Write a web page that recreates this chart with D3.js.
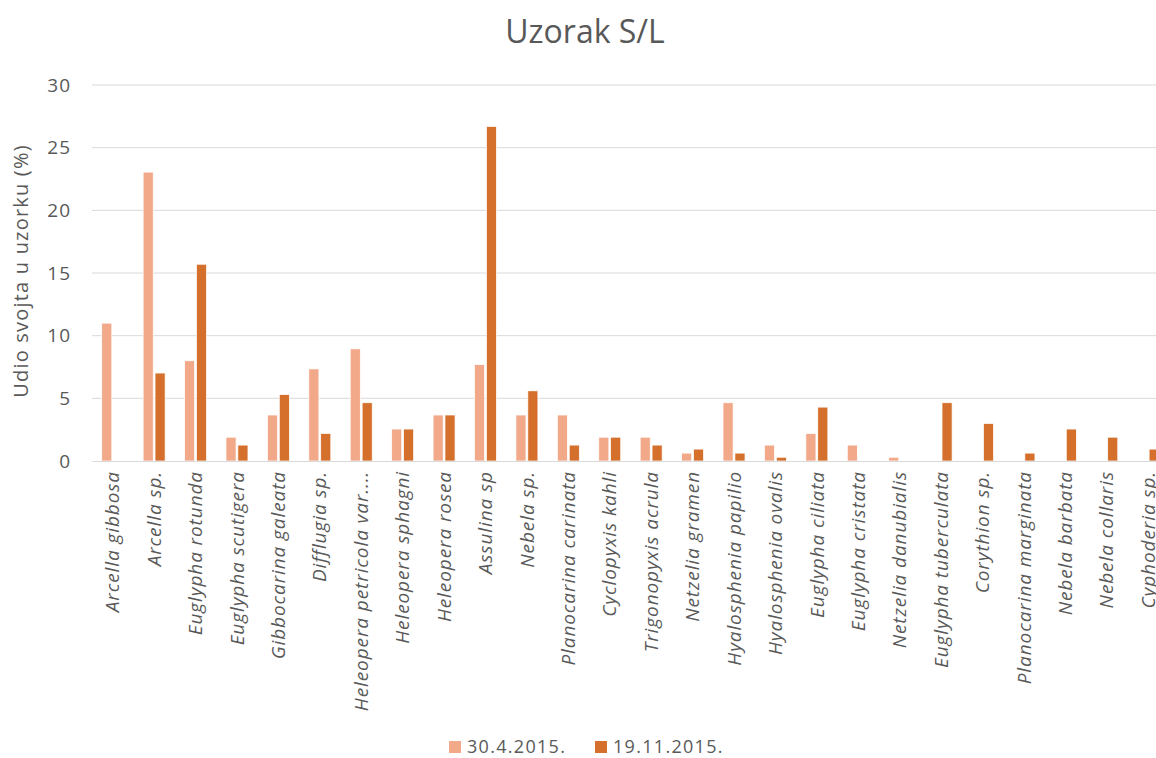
<!DOCTYPE html>
<html>
<head>
<meta charset="utf-8">
<script src="https://cdn.jsdelivr.net/npm/d3@7"></script>
<style>
  body { margin: 0; background: #fff; }
  text { font-family: "Open Sans", sans-serif; fill: #595959; }
</style>
</head>
<body>
<div id="chart"></div>
<script>
let svgWidth = 1156;
let svgHeight = 758;
let margin = { top: 85, right: -13, bottom: 297, left: 92 };
let chartWidth = svgWidth - margin.left - margin.right;
let chartHeight = svgHeight - margin.top - margin.bottom;

// data
let species = ["Arcella gibbosa", "Arcella sp.", "Euglypha rotunda", "Euglypha scutigera",
  "Gibbocarina galeata", "Difflugia sp.", "Heleopera petricola var....", "Heleopera sphagni",
  "Heleopera rosea", "Assulina sp", "Nebela sp.", "Planocarina carinata", "Cyclopyxis kahli",
  "Trigonopyxis acrula", "Netzelia gramen", "Hyalosphenia papilio", "Hyalosphenia ovalis",
  "Euglypha ciliata", "Euglypha cristata", "Netzelia danubialis", "Euglypha tuberculata",
  "Corythion sp.", "Planocarina marginata", "Nebela barbata", "Nebela collaris", "Cyphoderia sp."];
let seriesNames = ["30.4.2015.", "19.11.2015."];
let april = [11.0, 23.05, 8.0, 1.9, 3.67, 7.35, 8.95, 2.55, 3.67, 7.7, 3.67, 3.67, 1.9,
  1.9, 0.63, 4.65, 1.27, 2.2, 1.27, 0.3, 0, 0, 0, 0, 0, 0];
let november = [0, 7.02, 15.7, 1.27, 5.3, 2.2, 4.65, 2.55, 3.67, 26.7, 5.6, 1.27, 1.9,
  1.27, 0.95, 0.63, 0.3, 4.3, 0, 0, 4.65, 3.0, 0.63, 2.55, 1.9, 0.95];
let yTicks = [0, 5, 10, 15, 20, 25, 30];
let colors = ["#F2A98A", "#D46F2C"];

let rows = species.map((s, i) => ({ name: s, values: [april[i], november[i]] }));

let svg = d3.select("#chart")
  .append("svg")
  .attr("width", svgWidth)
  .attr("height", svgHeight);

// title
svg.append("text")
  .attr("x", 585)
  .attr("y", 43)
  .attr("text-anchor", "middle")
  .style("font-size", "32px")
  .text("Uzorak S/L");

let chartGroup = svg.append("g")
  .attr("transform", `translate(${margin.left}, ${margin.top})`);

let xBandScale = d3.scaleBand()
  .domain(species)
  .range([0, 26 * 41.42]);

let xSub = d3.scaleBand()
  .domain([0, 1])
  .range([-11, 11])
  .paddingInner(0.15);

let yLinearScale = d3.scaleLinear()
  .domain([0, 30])
  .range([chartHeight, 0]);

// gridlines
chartGroup.append("g")
  .selectAll("line")
  .data(yTicks.slice(1))
  .enter()
  .append("line")
  .attr("x1", 0)
  .attr("x2", chartWidth)
  .attr("y1", d => yLinearScale(d))
  .attr("y2", d => yLinearScale(d))
  .attr("stroke", "#d9d9d9")
  .attr("stroke-width", 1);

// y axis labels
let leftAxis = d3.axisLeft(yLinearScale).tickValues(yTicks).tickSize(0).tickPadding(21);
let yAxisG = chartGroup.append("g").call(leftAxis);
yAxisG.select(".domain").remove();
yAxisG.selectAll("text")
  .style("font-size", "19px")
  .style("letter-spacing", "1px")
  .style("font-family", "'Open Sans', sans-serif")
  .attr("fill", "#595959");

// bars
let groups = chartGroup.selectAll(".cat")
  .data(rows)
  .enter()
  .append("g")
  .attr("class", "cat")
  .attr("transform", d => `translate(${xBandScale(d.name) + xBandScale.bandwidth() / 2}, 0)`);

groups.selectAll("rect")
  .data(d => d.values.map((v, k) => ({ k: k, v: v })).filter(e => e.v > 0))
  .enter()
  .append("rect")
  .attr("x", d => xSub(d.k))
  .attr("y", d => yLinearScale(d.v))
  .attr("width", xSub.bandwidth())
  .attr("height", d => chartHeight - yLinearScale(d.v))
  .attr("fill", d => colors[d.k])
  .attr("stroke", "#fff")
  .attr("stroke-width", 0.75);

// x axis
let bottomAxis = d3.axisBottom(xBandScale).tickSize(0).tickPadding(0);
let xAxisG = chartGroup.append("g")
  .attr("transform", `translate(0, ${chartHeight})`)
  .call(bottomAxis);
xAxisG.select(".domain").attr("stroke", "#d9d9d9");
xAxisG.selectAll("text")
  .style("font-size", "19px")
  .style("letter-spacing", "0.9px")
  .style("font-style", "italic")
  .style("font-family", "'Open Sans', sans-serif")
  .attr("fill", "#595959")
  .attr("dy", "0.35em")
  .attr("y", 0)
  .attr("x", -10)
  .attr("transform", "rotate(-90)")
  .style("text-anchor", "end");

// y axis title
svg.append("text")
  .attr("transform", "translate(28, 271) rotate(-90)")
  .attr("text-anchor", "middle")
  .style("font-size", "20px")
  .style("letter-spacing", "1.2px")
  .text("Udio svojta u uzorku (%)");

// legend
let legend = svg.append("g").attr("transform", "translate(449, 741)");
let legendX = [0, 146];
seriesNames.forEach((name, k) => {
  let g = legend.append("g").attr("transform", `translate(${legendX[k]}, 0)`);
  g.append("rect").attr("width", 12).attr("height", 12).attr("fill", colors[k]);
  g.append("text").attr("x", 18).attr("y", 12)
    .style("font-size", "18px")
    .style("letter-spacing", "1.3px")
    .text(name);
});
</script>
</body>
</html>
